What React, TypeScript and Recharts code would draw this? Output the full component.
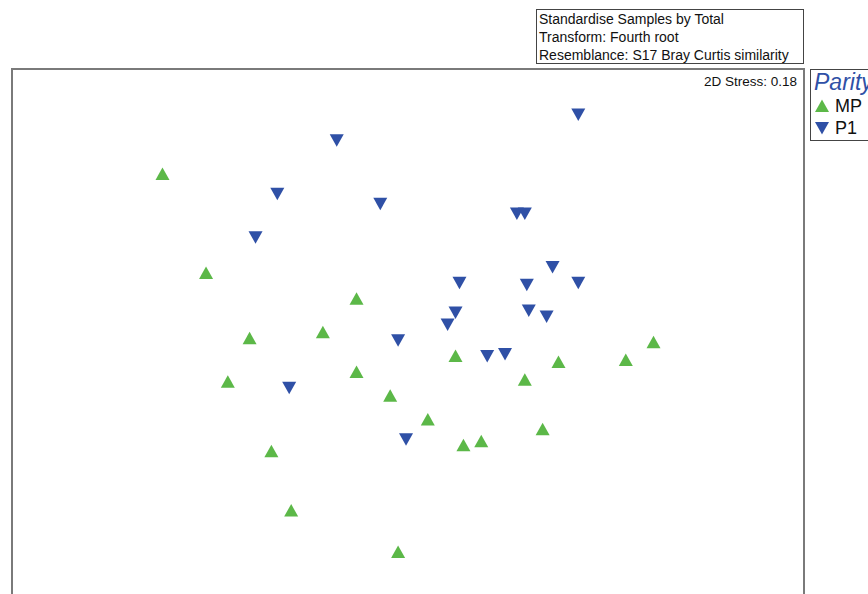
import { ReferenceArea, Scatter, ScatterChart, XAxis, YAxis } from 'recharts'

// nMDS ordination coordinates (arbitrary units)
const mpX = [-1.24, -1.02, -0.26, -0.8, -0.43, -0.91, -0.26, -0.09, 0.24, 0.1, 0.28, 0.37, 0.59, 0.76, 0.68, 1.1, 1.24, -0.69, -0.59, -0.05]
const mpY = [0.97, 0.47, 0.34, 0.14, 0.17, -0.08, -0.03, -0.15, 0.05, -0.27, -0.4, -0.38, -0.07, 0.02, -0.32, 0.03, 0.12, -0.43, -0.73, -0.94]
const p1X = [0.86, -0.36, -0.66, -0.14, -0.77, 0.55, 0.59, 0.73, 0.26, 0.6, 0.86, 0.24, 0.61, 0.7, 0.2, -0.05, 0.4, 0.49, -0.6, -0.01]
const p1Y = [1.27, 1.14, 0.87, 0.82, 0.65, 0.77, 0.77, 0.5, 0.42, 0.41, 0.42, 0.27, 0.28, 0.25, 0.21, 0.13, 0.05, 0.06, -0.11, -0.37]

const headerLines = ['Standardise Samples by Total', 'Transform: Fourth root', 'Resemblance: S17 Bray Curtis similarity']
const stressLabel = '2D Stress: 0.18'
const factorName = 'Parity'
const groups = ['MP', 'P1']

const GREEN = '#5cb848'
const BLUE = '#2f50a6'
const FONT = '"Liberation Sans", Arial, sans-serif'

const mpData = mpX.map((x, i) => ({ x, y: mpY[i] }))
const p1Data = p1X.map((x, i) => ({ x, y: p1Y[i] }))

function UpTriangle(props: any) {
  const { cx, cy } = props
  return <polygon points={`${cx},${cy - 6.5} ${cx + 7},${cy + 6} ${cx - 7},${cy + 6}`} fill={GREEN} />
}

function DownTriangle(props: any) {
  const { cx, cy } = props
  return <polygon points={`${cx - 7},${cy - 6} ${cx + 7},${cy - 6} ${cx},${cy + 6.5}`} fill={BLUE} />
}

// legend panel to the right of the ordination box (cut off by the page edge, like the original)
function LegendBox() {
  return (
    <div
      style={{
        position: 'absolute',
        left: 810,
        top: 69,
        border: '1px solid #444',
        width: 70,
        height: 72,
        boxSizing: 'border-box',
        fontFamily: FONT,
        paddingLeft: 3,
      }}
    >
      <div style={{ fontStyle: 'italic', color: BLUE, fontSize: 23, lineHeight: '25px', whiteSpace: 'nowrap' }}>{factorName}</div>
      {groups.map((g, i) => (
        <div key={g} style={{ display: 'flex', alignItems: 'center', height: 22, fontSize: 18, color: '#111' }}>
          <svg width={16} height={14} style={{ marginRight: 5 }}>
            {i === 0 ? (
              <polygon points="8,0.5 15,13 1,13" fill={GREEN} />
            ) : (
              <polygon points="1,1 15,1 8,13.5" fill={BLUE} />
            )}
          </svg>
          {g}
        </div>
      ))}
    </div>
  )
}

export default function App() {
  return (
    <div
      style={{
        position: 'absolute',
        left: 0,
        top: 0,
        width: 868,
        height: 594,
        overflow: 'hidden',
        background: '#fff',
        fontFamily: FONT,
      }}
    >
      <ScatterChart width={868} height={700} margin={{ top: 69, right: 64, bottom: 37, left: 12 }}>
        <XAxis type="number" dataKey="x" domain={[-2, 2]} hide />
        <YAxis type="number" dataKey="y" domain={[-1.5, 1.5]} hide />
        <ReferenceArea x1={-2} x2={2} y1={-1.5} y2={1.5} fill="none" stroke="#7a7a7a" strokeWidth={2} />
        <Scatter name="MP" data={mpData} shape={<UpTriangle />} isAnimationActive={false} />
        <Scatter name="P1" data={p1Data} shape={<DownTriangle />} isAnimationActive={false} />
      </ScatterChart>
      <LegendBox />
      <div
        style={{
          position: 'absolute',
          left: 536,
          top: 9,
          width: 268,
          height: 55,
          boxSizing: 'border-box',
          border: '1px solid #444',
          padding: '0 0 0 2px',
          fontSize: 14,
          lineHeight: '18px',
          color: '#111',
          whiteSpace: 'nowrap',
        }}
      >
        {headerLines.map((l) => (
          <div key={l}>{l}</div>
        ))}
      </div>
      <div
        style={{
          position: 'absolute',
          right: 868 - 797,
          top: 74,
          fontSize: 13.5,
          color: '#111',
        }}
      >
        {stressLabel}
      </div>
    </div>
  )
}
